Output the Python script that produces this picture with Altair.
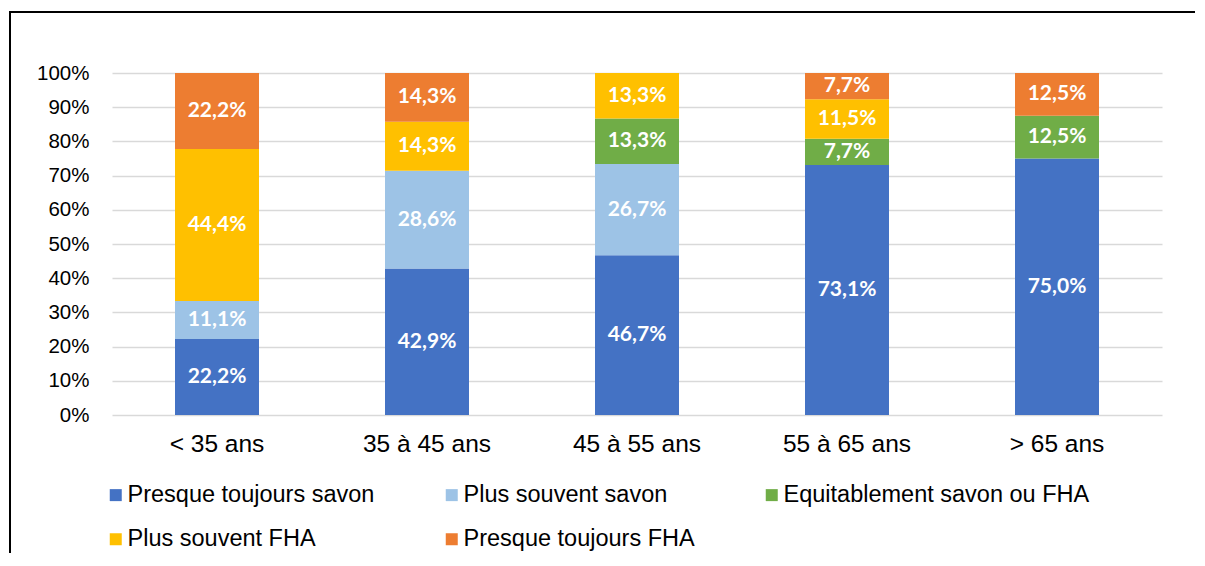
import altair as alt
import pandas as pd

categories = ["< 35 ans", "35 à 45 ans", "45 à 55 ans", "55 à 65 ans", "> 65 ans"]
series = [
    "Presque toujours savon",
    "Plus souvent savon",
    "Equitablement savon ou FHA",
    "Plus souvent FHA",
    "Presque toujours FHA",
]
colors = ["#4472C4", "#9DC3E6", "#70AD47", "#FFC000", "#ED7D31"]

presque_savon = [22.2, 42.9, 46.7, 73.1, 75.0]
souvent_savon = [11.1, 28.6, 26.7, 0.0, 0.0]
equitable = [0.0, 0.0, 13.3, 7.7, 12.5]
souvent_fha = [44.4, 14.3, 13.3, 11.5, 0.0]
presque_fha = [22.2, 14.3, 0.0, 7.7, 12.5]

y_ticks = [0.0, 0.1, 0.2, 0.3, 0.4, 0.5, 0.6, 0.7, 0.8, 0.9, 1.0]

values_by_series = [presque_savon, souvent_savon, equitable, souvent_fha, presque_fha]

rows = []
for si, (s, vals) in enumerate(zip(series, values_by_series)):
    for ci, (c, v) in enumerate(zip(categories, vals)):
        rows.append({"cat": c, "serie": s, "idx": si, "value": v})
df = pd.DataFrame(rows)

base = (
    alt.Chart(df)
    .transform_joinaggregate(total="sum(value)", groupby=["cat"])
    .transform_window(
        cum="sum(value)", sort=[alt.SortField("idx")], groupby=["cat"], frame=[None, 0]
    )
    .transform_calculate(
        y0="(datum.cum - datum.value) / datum.total",
        y1="datum.cum / datum.total",
        mid="(datum.cum - datum.value / 2) / datum.total",
        label="replace(format(datum.value, '.1f'), '.', ',') + '%'",
    )
    .transform_filter("datum.value > 0")
)

x_scale = alt.Scale(paddingInner=0.6, paddingOuter=0.3)
y_scale = alt.Scale(domain=[0, 1], nice=False)

x_axis = alt.Axis(
    title=None,
    labelAngle=0,
    domain=False,
    ticks=False,
    grid=False,
    labelFont="Liberation Sans",
    labelFontSize=24.5,
    labelColor="#000000",
    labelPadding=17,
)
y_axis = alt.Axis(
    title=None,
    format=".0%",
    values=y_ticks,
    labelOverlap=False,
    domain=False,
    ticks=False,
    grid=True,
    gridColor="#D9D9D9",
    gridWidth=1.4,
    labelFont="Liberation Sans",
    labelFontSize=20.5,
    labelColor="#000000",
    labelPadding=23,
)

bars = base.mark_bar().encode(
    x=alt.X("cat:N", sort=categories, scale=x_scale, axis=x_axis),
    y=alt.Y("y0:Q", scale=y_scale, axis=y_axis),
    y2="y1:Q",
    color=alt.Color(
        "serie:N",
        scale=alt.Scale(domain=series, range=colors),
        legend=alt.Legend(
            title=None,
            orient="none",
            legendX=-8,
            legendY=410,
            direction="horizontal",
            columns=3,
            columnPadding=65,
            rowPadding=19.5,
            symbolType="square",
            symbolSize=144,
            symbolStrokeWidth=0,
            labelFont="Liberation Sans",
            labelFontSize=23.5,
            labelColor="#000000",
            labelOffset=0,
            labelLimit=0,
        ),
    ),
)

labels = base.mark_text(
    color="white", font="Lato", fontWeight="bold", fontSize=21, align="center", baseline="middle"
).encode(
    x=alt.X("cat:N", sort=categories, scale=x_scale, axis=x_axis),
    y=alt.Y("mid:Q", scale=y_scale, axis=y_axis),
    text="label:N",
)

frame_data = alt.Data(values=[{}])
frame_top = alt.Chart(frame_data).mark_rule(color="black", strokeWidth=2).encode(
    x=alt.value(-102), x2=alt.value(1083), y=alt.value(-61)
)
frame_left = alt.Chart(frame_data).mark_rule(color="black", strokeWidth=2).encode(
    x=alt.value(-102), y=alt.value(-62), y2=alt.value(480)
)

chart = (
    alt.layer(bars, labels, frame_top, frame_left)
    .properties(
        width=1050,
        height=342,
        background="white",
        autosize=alt.AutoSizeParams(type="none"),
        padding={"left": 104, "top": 65, "right": 35, "bottom": 138},
    )
    .configure_view(stroke=None)
)

chart.save("out.html", embed_options={"renderer": "svg", "actions": False})
